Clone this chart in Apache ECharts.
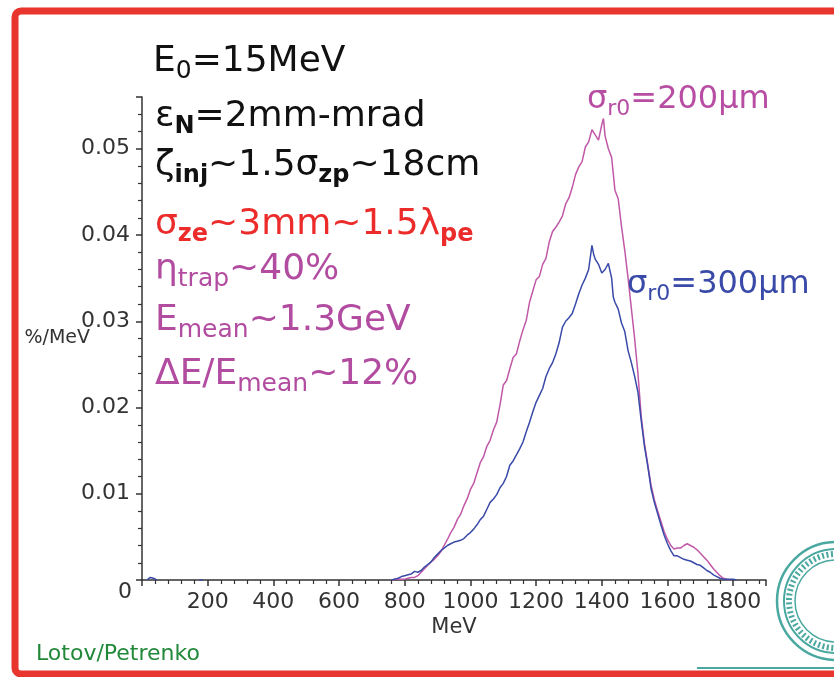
<!DOCTYPE html>
<html><head><meta charset="utf-8">
<script src="https://cdn.jsdelivr.net/npm/echarts@6/dist/echarts.min.js"></script>
<style>html,body{margin:0;padding:0;background:#fff}#c{width:834px;height:677px}</style>
</head><body><div id="c"></div>
<script>
// ---- data (energy in MeV, spectrum in %/MeV) ----
const energy200 = [
  760,770,780,790,800,810,820,830,840,850,
  860,870,880,890,900,910,920,930,940,950,
  960,970,980,990,1000,1010,1020,1030,1040,1050,
  1060,1070,1080,1090,1100,1110,1120,1130,1140,1150,
  1160,1170,1180,1190,1200,1210,1220,1230,1240,1250,
  1260,1270,1280,1290,1300,1310,1320,1330,1340,1350,
  1360,1370,1380,1390,1400,1405,1410,1420,1430,1440,
  1450,1460,1470,1480,1490,1500,1510,1520,1530,1540,
  1550,1560,1570,1580,1590,1600,1610,1620,1630,1640,
  1650,1660,1670,1680,1690,1700,1710,1720,1730,1740,
  1750,1760,1770,1780,1790
];
const spectrum200 = [
  0,0.0001,0.0001,0.0001,0.0001,0.0002,0.0003,0.0003,0.0005,0.0009,
  0.0013,0.0017,0.0021,0.0024,0.0028,0.0033,0.0040,0.0047,0.0055,0.0061,
  0.0070,0.0076,0.0086,0.0094,0.0105,0.0112,0.0124,0.0136,0.0143,0.0155,
  0.0162,0.0174,0.0183,0.0203,0.0226,0.0231,0.0245,0.0258,0.0262,0.0277,
  0.0290,0.0301,0.0322,0.0335,0.0348,0.0352,0.0366,0.0373,0.0392,0.0404,
  0.0409,0.0415,0.0422,0.0436,0.0443,0.0455,0.0470,0.0479,0.0485,0.0502,
  0.0508,0.0522,0.0516,0.0510,0.0528,0.0535,0.0515,0.0500,0.0490,0.0452,
  0.0442,0.0410,0.0382,0.0350,0.0315,0.0280,0.0240,0.0190,0.0158,0.0134,
  0.0110,0.0093,0.0080,0.0068,0.0056,0.0047,0.0040,0.0036,0.0037,0.0037,
  0.0040,0.0042,0.0040,0.0038,0.0035,0.0031,0.0027,0.0023,0.0018,0.0013,
  0.0009,0.0005,0.0002,0.0001,0
];
const energy300 = [
  15,25,35,45,100,175,180,185,500,
  760,770,780,790,800,810,820,830,840,850,
  860,870,880,890,900,910,920,930,940,950,
  960,970,980,990,1000,1010,1020,1030,1040,1050,
  1060,1070,1080,1090,1100,1110,1120,1130,1140,1150,
  1160,1170,1180,1190,1200,1210,1220,1230,1240,1250,
  1260,1270,1280,1290,1300,1310,1320,1330,1340,1350,
  1360,1370,1375,1380,1390,1400,1410,1420,1430,1435,
  1440,1450,1460,1470,1480,1490,1500,1510,1520,1530,
  1540,1550,1560,1570,1580,1590,1600,1610,1620,1630,
  1640,1650,1660,1670,1680,1690,1700,1710,1720,1730,
  1740,1750,1760,1770,1780,1790,1800,1810
];
const spectrum300 = [
  0,0.0003,0.0002,0,null,0,0.0002,0,null,
  0,0.0001,0.0002,0.0004,0.0005,0.0006,0.0007,0.0010,0.0009,0.0011,
  0.0015,0.0018,0.0021,0.0026,0.0030,0.0034,0.0037,0.0040,0.0042,0.0044,
  0.0045,0.0046,0.0048,0.0052,0.0055,0.0059,0.0064,0.0070,0.0074,0.0082,
  0.0090,0.0094,0.0099,0.0107,0.0112,0.0120,0.0133,0.0138,0.0145,0.0152,
  0.0160,0.0172,0.0183,0.0195,0.0206,0.0214,0.0222,0.0236,0.0245,0.0252,
  0.0262,0.0275,0.0293,0.0300,0.0304,0.0309,0.0320,0.0332,0.0342,0.0350,
  0.0360,0.0388,0.0378,0.0372,0.0366,0.0356,0.0360,0.0367,0.0350,0.0328,
  0.0322,0.0314,0.0298,0.0288,0.0266,0.0252,0.0236,0.0218,0.0185,0.0155,
  0.0132,0.0106,0.0090,0.0077,0.0064,0.0052,0.0042,0.0034,0.0028,0.0028,
  0.0026,0.0024,0.0023,0.0022,0.0020,0.0018,0.0017,0.0014,0.0011,0.0009,
  0.0006,0.0004,0.0002,0.0001,0.0001,0.0001,0.0001,0
];
const xAxisRange = [0, 1900];
const xTickStep = 200;
const yAxisRange = [0, 0.056];
const yTickStep = 0.01;
const seriesNames = ['σr0=200µm', 'σr0=300µm'];

// ---- styling ----
const FONT = 'DejaVu Sans';
const PINK = '#c058a8', BLUE = '#3a4aa8', MAG = '#b24ca0', RED = '#ec2b2b', BLACK = '#111';
const TEAL = '#4aa8a0';

function pairs(xs, ys) { return xs.map((x, i) => [x, ys[i]]); }

function annot(x, y, text, color, mainSize, subSize, subBold) {
  return {
    type: 'text', x: x, y: y, z: 100,
    style: {
      text: text, fill: color, verticalAlign: 'middle', align: 'left',
      fontFamily: FONT, fontSize: mainSize,
      rich: {
        m: { fontFamily: FONT, fontSize: mainSize, lineHeight: mainSize + 8, fill: color },
        s: { fontFamily: FONT, fontSize: subSize, fontWeight: subBold ? 'bold' : 'normal',
             verticalAlign: 'bottom', lineHeight: Math.round(subSize * 0.66), fill: color }
      }
    }
  };
}

const chart = echarts.init(document.getElementById('c'), null, { renderer: 'canvas' });
chart.setOption({
  animation: false,
  backgroundColor: '#fff',
  grid: { left: 142, top: 97, width: 624, height: 483, containLabel: false, outerBoundsMode: 'none' },
  xAxis: {
    type: 'value', min: xAxisRange[0], max: xAxisRange[1], interval: xTickStep,
    name: 'MeV', nameLocation: 'middle', nameGap: 37, nameMoveOverlap: false,
    nameTextStyle: { fontFamily: FONT, fontSize: 21, color: '#333' },
    axisLine: { show: true, onZero: false, lineStyle: { color: '#333', width: 1.5 } },
    axisTick: { show: true, length: 6, lineStyle: { color: '#333', width: 1.5 } },
    minorTick: { show: true, splitNumber: 5, length: 4, lineStyle: { color: '#333', width: 1.2 } },
    splitLine: { show: false },
    axisLabel: { showMinLabel: false, showMaxLabel: false, margin: 11,
      fontFamily: FONT, fontSize: 22, color: '#333', formatter: v => String(v) }
  },
  yAxis: {
    type: 'value', min: yAxisRange[0], max: yAxisRange[1], interval: yTickStep,
    name: '%/MeV', nameLocation: 'middle', nameRotate: 0, nameGap: 52, nameMoveOverlap: false,
    nameTextStyle: { fontFamily: FONT, fontSize: 19, color: '#333' },
    axisLine: { show: true, onZero: false, lineStyle: { color: '#333', width: 1.5 } },
    axisTick: { show: true, length: 6, lineStyle: { color: '#333', width: 1.5 } },
    minorTick: { show: true, splitNumber: 5, length: 4, lineStyle: { color: '#333', width: 1.2 } },
    splitLine: { show: false },
    axisLabel: { showMinLabel: false, showMaxLabel: false, margin: 12,
      fontFamily: FONT, fontSize: 22, color: '#333',
      formatter: v => v.toFixed(2) }
  },
  series: [
    { name: seriesNames[0], type: 'line', data: pairs(energy200, spectrum200),
      showSymbol: false, connectNulls: false, lineStyle: { color: PINK, width: 1.5 }, itemStyle: { color: PINK } },
    { name: seriesNames[1], type: 'line', data: pairs(energy300, spectrum300),
      showSymbol: false, connectNulls: false, lineStyle: { color: BLUE, width: 1.5 }, itemStyle: { color: BLUE } }
  ],
  graphic: [
    // frame
    { type: 'rect', z: 200, shape: { x: 15, y: 11, width: 840, height: 663, r: 6 },
      style: { fill: 'none', stroke: '#e8352d', lineWidth: 7 } },
    // origin label
    { type: 'text', x: 125, y: 592, style: { text: '0', fill: '#333', fontFamily: FONT, fontSize: 22, align: 'center', verticalAlign: 'middle' } },
    // annotations
    annot(153, 62, '{m|E}{s|0}{m|=15MeV}', BLACK, 36, 25, false),
    annot(155, 117, '{m|ε}{s|N}{m|=2mm-mrad}', BLACK, 36, 24, true),
    annot(155, 166, '{m|ζ}{s|inj}{m|~1.5σ}{s|zp}{m|~18cm}', BLACK, 36, 24, true),
    annot(155, 225, '{m|σ}{s|ze}{m|~3mm~1.5λ}{s|pe}', RED, 36, 24, true),
    annot(155, 270, '{m|η}{s|trap}{m|~40%}', MAG, 36, 25, false),
    annot(155, 321, '{m|E}{s|mean}{m|~1.3GeV}', MAG, 36, 25, false),
    annot(155, 375, '{m|ΔE/E}{s|mean}{m|~12%}', MAG, 36, 25, false),
    annot(587, 100, '{m|σ}{s|r0}{m|=200µm}', '#b84ea3', 32, 22, false),
    annot(627, 285, '{m|σ}{s|r0}{m|=300µm}', BLUE, 32, 22, false),
    // credit
    { type: 'text', x: 36, y: 654, style: { text: 'Lotov/Petrenko', fill: '#22883a', fontFamily: FONT, fontSize: 22, align: 'left', verticalAlign: 'middle' } },
    // logo (decorative seal)
    { type: 'circle', shape: { cx: 836, cy: 601, r: 59 }, style: { fill: 'none', stroke: TEAL, lineWidth: 2.5 } },
    { type: 'circle', shape: { cx: 836, cy: 601, r: 52 }, style: { fill: 'none', stroke: TEAL, lineWidth: 2 } },
    { type: 'circle', shape: { cx: 836, cy: 601, r: 47 }, style: { fill: 'none', stroke: TEAL, lineWidth: 6, lineDash: [2, 2.5] } },
    { type: 'circle', shape: { cx: 836, cy: 601, r: 41 }, style: { fill: 'none', stroke: TEAL, lineWidth: 1.5 } },
    { type: 'line', shape: { x1: 697, y1: 668, x2: 834, y2: 668 }, style: { stroke: TEAL, lineWidth: 2 } }
  ]
});
</script>
</body></html>
